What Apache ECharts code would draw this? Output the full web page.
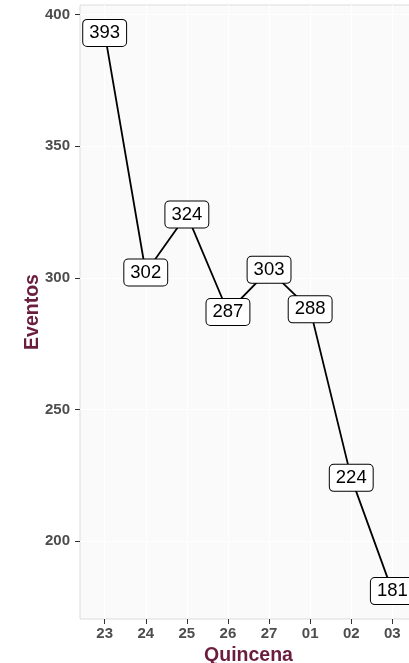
<!DOCTYPE html>
<html>
<head>
<meta charset="utf-8">
<script src="https://cdn.jsdelivr.net/npm/echarts@6/dist/echarts.min.js"></script>
<style>
  html, body { margin: 0; padding: 0; background: #fff; }
  #chart { width: 409px; height: 663px; }
</style>
</head>
<body>
<div id="chart"></div>
<script>
// quincenas y eventos
const quincenas = ['23', '24', '25', '26', '27', '01', '02', '03']
const eventos = [393, 302, 324, 287, 303, 288, 224, 181]
const yTicks = [200, 250, 300, 350, 400]

const positions = quincenas.map((q, i) => i + 1)
const font = 'Liberation Sans, Arial, sans-serif'
const titleColor = '#6b1d3d'

const chart = echarts.init(document.getElementById('chart'))

chart.setOption({
  animation: false,
  grid: {
    left: 80,
    top: 5,
    right: -8,
    bottom: 44,
    outerBoundsMode: 'none',
    containLabel: false,
    show: true,
    backgroundColor: '#fafafa',
    borderColor: '#dcdcdc',
    borderWidth: 1
  },
  xAxis: {
    type: 'value',
    min: 0.4,
    max: 8.6,
    name: 'Quincena',
    nameLocation: 'middle',
    nameGap: 24,
    nameTextStyle: { color: titleColor, fontSize: 19.5, fontWeight: 'bold', fontFamily: font },
    axisLine: { show: false },
    axisTick: { show: true, customValues: positions, length: 5, lineStyle: { color: '#333' } },
    axisLabel: {
      customValues: positions,
      formatter: v => quincenas[v - 1],
      color: '#4d4d4d',
      fontSize: 15,
      fontWeight: 'bold',
      fontFamily: font,
      margin: 7
    },
    splitLine: { show: true, lineStyle: { color: '#ffffff', width: 1.2 } }
  },
  yAxis: {
    type: 'value',
    min: 170.4,
    max: 403.6,
    name: 'Eventos',
    nameLocation: 'middle',
    nameRotate: 90,
    nameGap: 37,
    nameMoveOverlap: false,
    nameTextStyle: { color: titleColor, fontSize: 19.5, fontWeight: 'bold', fontFamily: font },
    axisLine: { show: false },
    axisTick: { show: true, customValues: yTicks, length: 5, lineStyle: { color: '#333' } },
    axisLabel: {
      customValues: yTicks,
      color: '#4d4d4d',
      fontSize: 15,
      fontWeight: 'bold',
      fontFamily: font,
      margin: 10
    },
    splitLine: { show: true, lineStyle: { color: '#ffffff', width: 1.2 } }
  },
  series: [{
    type: 'line',
    data: positions.map((p, i) => [p, eventos[i]]),
    symbol: 'circle',
    symbolSize: 2,
    itemStyle: { color: 'rgba(0,0,0,0)' },
    lineStyle: { color: '#000', width: 1.8 },
    label: {
      show: true,
      position: 'inside',
      formatter: p => p.value[1],
      color: '#000',
      fontSize: 18.5,
      fontFamily: font,
      backgroundColor: '#fff',
      borderColor: '#000',
      borderWidth: 1,
      borderRadius: 4,
      padding: [4, 6, 3, 6]
    }
  }]
})
</script>
</body>
</html>
